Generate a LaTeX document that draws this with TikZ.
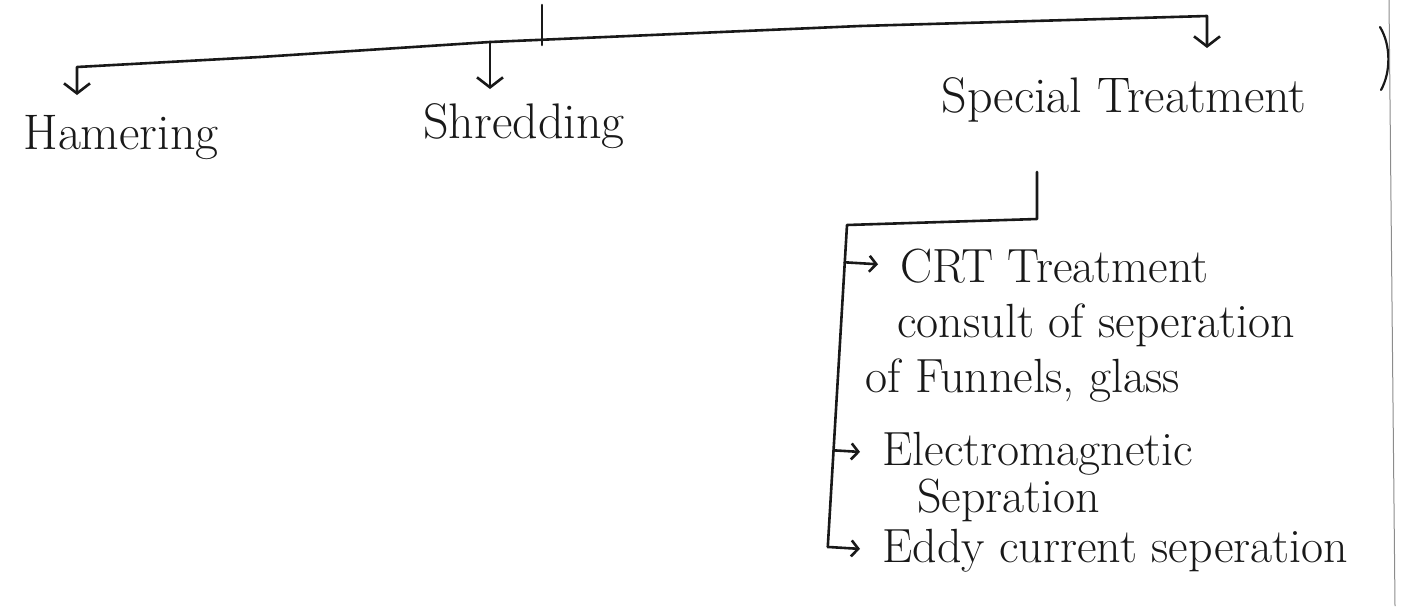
\documentclass[tikz,border=0pt]{standalone}
\usetikzlibrary{arrows.meta,calc}
\tikzset{
  pen/.style={line width=1.3pt, line cap=round, line join=round, black!90},
  bigtip/.style={pen, -{Straight Barb[length=5pt,width=13pt]}},
  smalltip/.style={pen, -{Straight Barb[length=3.5pt,width=8pt]}, shorten >=11pt},
  word/.style={inner sep=0pt, text=black!90, font=\fontsize{25}{30}\selectfont},
  item/.style={inner sep=0pt, anchor=base west, text=black!90, font=\fontsize{24}{29}\selectfont},
}
\begin{document}
\begin{tikzpicture}[x=0.5pt, y=-0.5pt]
\useasboundingbox (0,0) rectangle (1404,606);
%%%% Top row labels
\node[word, anchor=base] (ham) at (121,149) {Hamering};
\node[word, anchor=base] (shr) at (524,138) {Shredding};
\node[word, anchor=base] (spt) at (1124,112) {Special Treatment};

%%%% Main line and its drops
\coordinate (hamCorner) at (77,67);
\coordinate (hamTip) at (77,95);
\coordinate (lineA) at (260,57);
\coordinate (shrTop) at (490,42);
\coordinate (shrTip) at (490,89);
\coordinate (lineB) at (860,26);
\coordinate (sptCorner) at (1207,16);
\coordinate (sptTip) at (1207,48);
\coordinate (stubTop) at (542,5);
\coordinate (stubBot) at (542,45);
\draw[bigtip] (shrTop) -- (lineA) -- (hamCorner) -- (hamTip);
\draw[bigtip] (shrTop) -- (lineB) -- (sptCorner) -- (sptTip);
\draw[bigtip] (shrTop) -- (shrTip);
\draw[pen] (stubTop) -- (stubBot);

%%%% Items under Special Treatment
\node[item] (crt) at (900,282) {CRT Treatment};
\node[item] (crtB) at (897,337) {consult of seperation};
\node[item] (crtC) at (865,392) {of Funnels, glass};
\node[item] (emag) at (882,465) {Electromagnetic};
\node[item] (emagB) at (917,512) {Sepration};
\node[item] (eddy) at (882,562) {Eddy current seperation};

%%%% Bracket down from Special Treatment
\coordinate (sptDrop) at (1037,172);
\coordinate (sptKnee) at (1037,219);
\coordinate (spineTop) at (847,225);
\coordinate (spineBot) at ($(847,225)!(eddy.west)!(827,560)$);
\draw[pen] (sptDrop) -- (sptKnee) -- (spineTop) -- (spineBot);
\draw[smalltip] ($(spineTop)!(crt.west)!(spineBot)$) -- (crt.west);
\draw[smalltip] ($(spineTop)!(emag.west)!(spineBot)$) -- (emag.west);
\draw[smalltip] (spineBot) -- (eddy.west);

%%%% Page edge
\draw[pen, line width=1.1pt] (1380,27) .. controls (1391,45) and (1391,72) .. (1381,90);
\draw[black!45, line width=0.5pt] (1389,0) -- (1395,606);
\end{tikzpicture}
\end{document}
